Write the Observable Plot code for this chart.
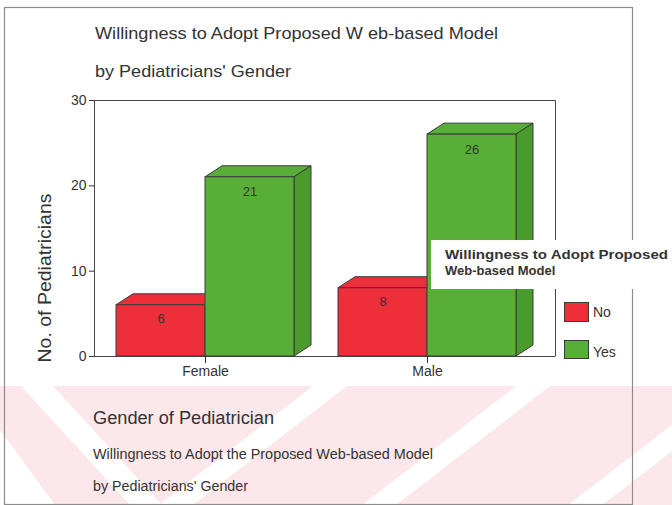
<!DOCTYPE html>
<html>
<head>
<meta charset="utf-8">
<script src="https://cdn.jsdelivr.net/npm/d3@7"></script>
<script src="https://cdn.jsdelivr.net/npm/@observablehq/plot@0.6"></script>
<style>
  html, body { margin: 0; padding: 0; background: #fff; }
  #chart { width: 672px; height: 505px; }
</style>
</head>
<body>
<div id="chart"></div>
<script>
// ---- data ----
const genders = ["Female", "Male"];
const answers = ["No", "Yes"];
const noValues = [6, 8];
const yesValues = [21, 26];
const yTicks = [0, 10, 20, 30];
const titleLines = ["Willingness to Adopt Proposed W eb-based Model", "by Pediatricians' Gender"];
const xAxisTitle = "Gender of Pediatrician";
const yAxisTitle = "No. of Pediatricians";
const captionLines = ["Willingness to Adopt the Proposed Web-based Model", "by Pediatricians' Gender"];
const legendTitleLines = ["Willingness to Adopt Proposed", "Web-based Model"];
const frontColors = ["#ee2f3a", "#58ae36"];
const sideColors = ["#d9232e", "#4a9a2c"];

const data = genders.flatMap((g, i) => [
  {gender: g, answer: answers[0], value: noValues[i]},
  {gender: g, answer: answers[1], value: yesValues[i]}
]);
const noData = data.filter(d => d.answer === answers[0]);
const yesData = data.filter(d => d.answer === answers[1]);

const depthX = 17, depthY = -11;
const ink = "#333";
const font = "Liberation Sans, Arial, Helvetica, sans-serif";

function watermark() {
  const g = d3.create("svg:g");
  g.append("rect").attr("x", 0).attr("y", 386).attr("width", 672).attr("height", 119).attr("fill", "#fce8ea");
  for (const b of [159, 362, 568, 775]) {
    g.append("polygon").attr("points", `${b},505 ${b + 34},505 ${b + 188},386 ${b + 154},386`).attr("fill", "#fff");
  }
  g.append("polygon").attr("points", "21,386 53,386 162,505 130,505").attr("fill", "#fff");
  g.append("polygon").attr("points", "0,430 0,505 55,505").attr("fill", "#fff");
  return g.node();
}

function frames(index, scales) {
  const x = scales.x, y = scales.y;
  const [r0, r1] = x.range();
  const y0 = y(0), yTop = y(yTicks[yTicks.length - 1]);
  const g = d3.create("svg:g").attr("fill", "none");
  g.append("rect").attr("x", 4.5).attr("y", 7.5).attr("width", 628).attr("height", 497)
    .attr("stroke", "#8c8c8c").attr("stroke-width", 1.2);
  g.append("path").attr("d", `M${r0},${yTop + 0.5}H${r1 + depthX + 0.5}V${y0}`).attr("stroke", "#444");
  g.append("path").attr("d", `M${r0 + 0.5},${yTop}V${y0}`).attr("stroke", "#444");
  g.append("path").attr("d", `M${r0 - 3},${y0 + 0.5}H${r1 + depthX + 0.5}`).attr("stroke", "#444");
  return g.node();
}

function faces(index, scales) {
  const x = scales.x, y = scales.y;
  const bw = x.bandwidth ? x.bandwidth() : 178;
  const half = bw / 2;
  const g = d3.create("svg:g").attr("stroke", "#3a3a3a").attr("stroke-width", 1).attr("stroke-linejoin", "round");
  for (const d of data) {
    const k = answers.indexOf(d.answer);
    const x0 = x(d.gender) + k * half, x1 = x0 + half;
    const yt = y(d.value), yb = y(0);
    g.append("path")
      .attr("d", `M${x0},${yt}L${x0 + depthX},${yt + depthY}L${x1 + depthX},${yt + depthY}L${x1},${yt}Z`)
      .attr("fill", frontColors[k]);
    g.append("path")
      .attr("d", `M${x1},${yt}L${x1 + depthX},${yt + depthY}L${x1 + depthX},${yb + depthY}L${x1},${yb}Z`)
      .attr("fill", sideColors[k]);
  }
  return g.node();
}

function texts() {
  const g = d3.create("svg:g").attr("fill", ink).attr("font-family", font).attr("text-anchor", "start");
  const t = (s, x, y, size, len, weight) => {
    const e = g.append("text").attr("x", x).attr("y", y).attr("font-size", size).attr("text-anchor", "start").text(s);
    if (len) e.attr("textLength", len).attr("lengthAdjust", "spacingAndGlyphs");
    if (weight) e.attr("font-weight", weight);
    return e;
  };
  t(titleLines[0], 95, 39, 17, 403);
  t(titleLines[1], 95, 77, 17, 196);
  t(xAxisTitle, 93, 424, 18, 181);
  t(captionLines[0], 93, 459, 14, 340);
  t(captionLines[1], 93, 491, 14, 155);
  g.append("text").attr("transform", "translate(51,278) rotate(-90)").attr("text-anchor", "middle")
    .attr("font-size", 19).attr("textLength", 169).attr("lengthAdjust", "spacingAndGlyphs").text(yAxisTitle);
  // legend
  g.append("rect").attr("x", 431).attr("y", 240).attr("width", 241).attr("height", 49).attr("fill", "#fff");
  t(legendTitleLines[0], 445, 259, 13, 223, "bold");
  t(legendTitleLines[1], 445, 275, 13, null, "bold");
  const sw = [[302.5, 19], [340.5, 18]];
  answers.forEach((a, i) => {
    g.append("rect").attr("x", 564.5).attr("y", sw[i][0]).attr("width", 24).attr("height", sw[i][1])
      .attr("fill", frontColors[i]).attr("stroke", "#3a3a3a");
    t(a, 593, i === 0 ? 317 : 357, 14);
  });
  return g.node();
}

const chart = Plot.plot({
  width: 672,
  height: 505,
  marginTop: 100,
  marginBottom: 149,
  marginLeft: 94,
  marginRight: 134,
  style: {fontFamily: font, background: "transparent", color: ink, overflow: "visible"},
  x: {type: "band", domain: genders, paddingInner: 0.2, paddingOuter: 0.1},
  y: {domain: [0, 30]},
  color: {domain: answers, range: frontColors},
  marks: [
    watermark,
    frames,
    faces,
    Plot.barY(noData, {x: "gender", y: "value", fill: "answer", stroke: "#3a3a3a", insetRight: 89}),
    Plot.barY(yesData, {x: "gender", y: "value", fill: "answer", stroke: "#3a3a3a", insetLeft: 89}),
    Plot.text(noData, {x: "gender", y: "value", text: d => String(d.value), dx: -44.5, dy: 14, fill: ink, fontSize: 13}),
    Plot.text(yesData, {x: "gender", y: "value", text: d => String(d.value), dx: 44.5, dy: 15, fill: ink, fontSize: 13}),
    Plot.axisY({ticks: yTicks, tickSize: 5, tickPadding: 3, label: null, fontSize: 14, color: ink}),
    Plot.axisX({tickSize: 7, tickPadding: 3, label: null, fontSize: 14, color: ink}),
    texts
  ]
});
document.getElementById("chart").appendChild(chart);
</script>
</body>
</html>
